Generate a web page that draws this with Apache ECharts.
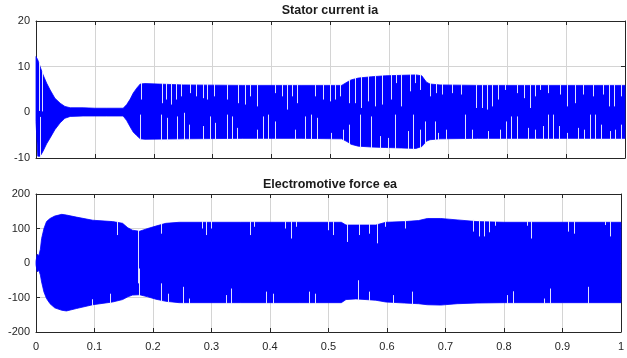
<!DOCTYPE html>
<html>
<head>
<meta charset="utf-8">
<title>Stator current / EMF</title>
<script src="https://cdn.jsdelivr.net/npm/echarts@6/dist/echarts.min.js"></script>
</head>
<body style="margin:0;background:#fff">
<div id="container" style="width:627px;height:358px;"></div>
<script type="text/javascript">
// stator current ia: upper / lower edge of the dense oscillation
var iaTime  = [0, 0.003, 0.007, 0.012, 0.018, 0.024, 0.032, 0.041, 0.049, 0.058, 0.08, 0.1, 0.12, 0.148, 0.154, 0.16, 0.165, 0.171, 0.177, 0.185, 0.25, 0.35, 0.45, 0.519, 0.528, 0.535, 0.547, 0.57, 0.593, 0.62, 0.645, 0.655, 0.663, 0.669, 0.686, 0.75, 0.85, 1.0];
var iaUpper = [12.2, 11.5, 10, 8.2, 6.4, 4.9, 3.1, 2.0, 1.3, 1.0, 1.0, 0.9, 0.9, 0.9, 1.7, 2.9, 4.2, 5.3, 6.2, 6.3, 6.0, 5.9, 5.9, 5.9, 6.6, 7.1, 7.5, 7.8, 8.0, 8.1, 8.2, 8.0, 6.6, 6.2, 6.0, 5.9, 5.9, 5.9];
var iaLower = [-2, -9.6, -9.6, -8.5, -6.9, -5.6, -3.8, -2.3, -1.3, -0.9, -0.8, -0.8, -0.8, -0.8, -1.8, -3.2, -4.3, -5.1, -5.8, -5.9, -5.8, -5.7, -5.7, -5.8, -6.4, -7.0, -7.4, -7.6, -7.7, -7.8, -7.9, -7.5, -6.3, -6.0, -5.8, -5.7, -5.7, -5.7];

// white aliasing gaps in ia: time and the value where the gap ends
var iaGapTopT = [0.0056, 0.0107, 0.178, 0.214, 0.220, 0.230, 0.238, 0.247, 0.261, 0.271, 0.284, 0.291, 0.303, 0.324, 0.343, 0.355, 0.363, 0.375, 0.406, 0.417, 0.426, 0.434, 0.443, 0.474, 0.488, 0.499, 0.508, 0.516, 0.532, 0.542, 0.552, 0.564, 0.576, 0.587, 0.602, 0.611, 0.620, 0.635, 0.643, 0.652, 0.669, 0.679, 0.690, 0.706, 0.722, 0.747, 0.757, 0.766, 0.775, 0.785, 0.796, 0.816, 0.829, 0.839, 0.847, 0.856, 0.870, 0.890, 0.901, 0.915, 0.929, 0.946, 0.963, 0.973, 0.982, 0.993];
var iaGapTopV = [0.3, 0.2, 2.8, 2.0, 2.8, 1.7, 2.8, 3.5, 4.2, 3.5, 3.1, 2.8, 3.5, 2.8, 2.0, 1.7, 3.5, 1.3, 4.2, 3.5, 0.6, 3.5, 2.0, 3.5, 2.8, 2.4, 2.8, 3.5, 2.0, 2.0, 0.95, 2.4, 1.3, 1.7, 2.8, 6.4, 1.3, 4.6, 6.4, 4.9, 3.5, 4.2, 3.9, 4.2, 3.9, 0.95, 0.95, 0.6, 1.3, 2.8, 4.9, 4.2, 3.1, 0.95, 3.5, 4.9, 4.2, 3.9, 1.3, 2.0, 3.9, 3.5, 3.9, 1.3, 1.3, 3.5];
var iaGapBotT = [0.006, 0.177, 0.213, 0.222, 0.239, 0.251, 0.260, 0.284, 0.295, 0.304, 0.324, 0.332, 0.342, 0.375, 0.386, 0.394, 0.405, 0.440, 0.457, 0.467, 0.477, 0.501, 0.522, 0.531, 0.550, 0.569, 0.584, 0.598, 0.610, 0.631, 0.640, 0.652, 0.660, 0.677, 0.683, 0.696, 0.728, 0.740, 0.768, 0.788, 0.798, 0.806, 0.816, 0.836, 0.847, 0.860, 0.869, 0.878, 0.888, 0.901, 0.921, 0.931, 0.941, 0.949, 0.960, 0.975, 0.983, 0.993];
var iaGapBotV = [-1.0, -0.5, -0.5, -1.2, -0.9, -0.1, -2.7, -3.0, -0.9, -2.3, -0.5, -0.9, -3.4, -3.8, -0.9, -0.5, -2.0, -3.8, -0.9, -0.5, -1.2, -4.5, -3.8, -2.7, -0.5, -0.9, -5.2, -5.6, -0.5, -4.1, -0.5, -3.8, -2.0, -2.0, -4.5, -3.8, -0.5, -3.8, -4.1, -3.8, -2.0, -0.9, -0.9, -3.4, -3.8, -3.0, -0.5, -0.5, -3.0, -4.5, -3.4, -3.8, -0.5, -0.5, -2.7, -4.1, -3.8, -2.7];

// electromotive force ea: upper / lower edge
var eaTime  = [0, 0.002, 0.005, 0.0075, 0.0096, 0.0136, 0.018, 0.024, 0.032, 0.044, 0.052, 0.069, 0.097, 0.131, 0.148, 0.157, 0.165, 0.177, 0.191, 0.205, 0.222, 0.245, 0.35, 0.45, 0.522, 0.53, 0.547, 0.581, 0.598, 0.63, 0.654, 0.669, 0.692, 0.72, 0.754, 0.8, 0.9, 1.0];
var eaUpper = [5, 25, 22, 40, 71, 100, 120, 129, 136, 141, 139, 133, 124, 120, 115, 102, 95, 92, 100, 107, 115, 118, 118, 118, 118, 110, 110, 110, 118, 120, 123, 129, 129, 125, 120, 118, 118, 118];
var eaLower = [-5, -25, -22, -35, -55, -84, -103, -118, -130, -137, -139, -132, -121, -113, -106, -98, -93, -92, -98, -105, -111, -115, -115, -115, -115, -106, -104, -108, -113, -116, -118, -121, -122, -118, -116, -115, -115, -115];

var eaGapTopT = [0.138, 0.174, 0.213, 0.283, 0.291, 0.300, 0.365, 0.373, 0.426, 0.436, 0.445, 0.499, 0.507, 0.532, 0.552, 0.569, 0.583, 0.597, 0.630, 0.747, 0.757, 0.766, 0.775, 0.785, 0.839, 0.847, 0.910, 0.919, 0.973, 0.982];
var eaGapTopV = [81, -59, 85, 100, 81, 100, 81, 105, 100, 71, 105, 95, 81, 61, 81, 85, 57, 105, 100, 91, 77, 77, 89, 108, 108, 71, 91, 85, 110, 77];
var eaGapBotT = [0.095, 0.126, 0.176, 0.214, 0.226, 0.251, 0.262, 0.324, 0.333, 0.394, 0.405, 0.467, 0.477, 0.550, 0.569, 0.610, 0.642, 0.806, 0.816, 0.869, 0.878, 0.944];
var eaGapBotV = [-105, -89, -16, -59, -89, -69, -103, -93, -74, -83, -89, -83, -89, -50, -83, -93, -83, -93, -82, -103, -74, -69];

var titles = ['Stator current ia', 'Electromotive force ea'];

var myChart = echarts.init(document.getElementById('container'));

var font = "'Liberation Sans', Arial, Helvetica, sans-serif";
var boxColor = '#262626';
var gridColor = '#d4d4d4';
var blue = '#0000ff';

// value of an envelope at time t (to start a gap exactly at the band edge)
function edgeAt(ts, vs, t) {
    for (var i = 1; i < ts.length; i++) {
        if (t <= ts[i]) {
            var f = (t - ts[i - 1]) / (ts[i] - ts[i - 1]);
            return vs[i - 1] + f * (vs[i] - vs[i - 1]);
        }
    }
    return vs[vs.length - 1];
}

function bandSeries(axisIdx, ts, up, lo, gapTopT, gapTopV, gapBotT, gapBotV) {
    return {
        type: 'custom', xAxisIndex: axisIdx, yAxisIndex: axisIdx,
        data: [[0, 0]], silent: true, z: 3,
        renderItem: function (params, api) {
            var pts = [], i;
            for (i = 0; i < ts.length; i++) pts.push(api.coord([ts[i], up[i]]));
            for (i = ts.length - 1; i >= 0; i--) pts.push(api.coord([ts[i], lo[i]]));
            var kids = [{ type: 'polygon', shape: { points: pts },
                          style: { fill: blue, stroke: blue, lineWidth: 0.8 } }];
            function gap(t, v, edgeVals, dir) {
                var a = api.coord([t, edgeAt(ts, edgeVals, t)]);
                var b = api.coord([t, v]);
                var x = Math.round(a[0]) + 0.5;
                kids.push({ type: 'line',
                    shape: { x1: x, y1: a[1] - dir * 1.5, x2: x, y2: b[1] },
                    style: { stroke: 'rgba(236,236,255,0.95)', lineWidth: 1 } });
            }
            for (i = 0; i < gapTopT.length; i++) gap(gapTopT[i], gapTopV[i], up, 1);
            for (i = 0; i < gapBotT.length; i++) gap(gapBotT[i], gapBotV[i], lo, -1);
            return { type: 'group', children: kids };
        }
    };
}

function xAx(gridIndex, showLabel, pos) {
    return {
        type: 'value', gridIndex: gridIndex, position: pos,
        min: 0, max: 1, interval: 0.1,
        axisLine: { show: true, onZero: false, lineStyle: { color: boxColor, width: 1 } },
        axisTick: { show: true, inside: true, length: 4, lineStyle: { color: boxColor } },
        axisLabel: { show: showLabel, color: '#262626', fontSize: 11, fontFamily: font, margin: 9 },
        splitLine: { show: pos === 'bottom', lineStyle: { color: gridColor, width: 1 } }
    };
}
function yAx(gridIndex, min, max, step, pos) {
    return {
        type: 'value', gridIndex: gridIndex, position: pos,
        min: min, max: max, interval: step,
        axisLine: { show: true, onZero: false, lineStyle: { color: boxColor, width: 1 } },
        axisTick: { show: true, inside: true, length: 4, lineStyle: { color: boxColor } },
        axisLabel: { show: pos === 'left', color: '#262626', fontSize: 11, fontFamily: font, margin: 6 },
        splitLine: { show: pos === 'left', lineStyle: { color: gridColor, width: 1 } }
    };
}

var option = {
    animation: false,
    backgroundColor: '#ffffff',
    title: [
        { text: titles[0], left: 330, top: 4, padding: 0, textAlign: 'center',
          textStyle: { fontSize: 12.5, fontWeight: 'bold', color: '#1a1a1a', fontFamily: font } },
        { text: titles[1], left: 330, top: 178, padding: 0, textAlign: 'center',
          textStyle: { fontSize: 12.5, fontWeight: 'bold', color: '#1a1a1a', fontFamily: font } }
    ],
    grid: [
        { left: 36, top: 21, width: 589, height: 137 },
        { left: 36, top: 194, width: 589, height: 138 }
    ],
    xAxis: [
        xAx(0, false, 'bottom'), xAx(0, false, 'top'),
        xAx(1, true, 'bottom'), xAx(1, false, 'top')
    ],
    yAxis: [
        yAx(0, -10, 20, 10, 'left'), yAx(0, -10, 20, 10, 'right'),
        yAx(1, -200, 200, 100, 'left'), yAx(1, -200, 200, 100, 'right')
    ],
    series: [
        bandSeries(0, iaTime, iaUpper, iaLower, iaGapTopT, iaGapTopV, iaGapBotT, iaGapBotV),
        bandSeries(2, eaTime, eaUpper, eaLower, eaGapTopT, eaGapTopV, eaGapBotT, eaGapBotV)
    ]
};

myChart.setOption(option);
</script>
</body>
</html>
